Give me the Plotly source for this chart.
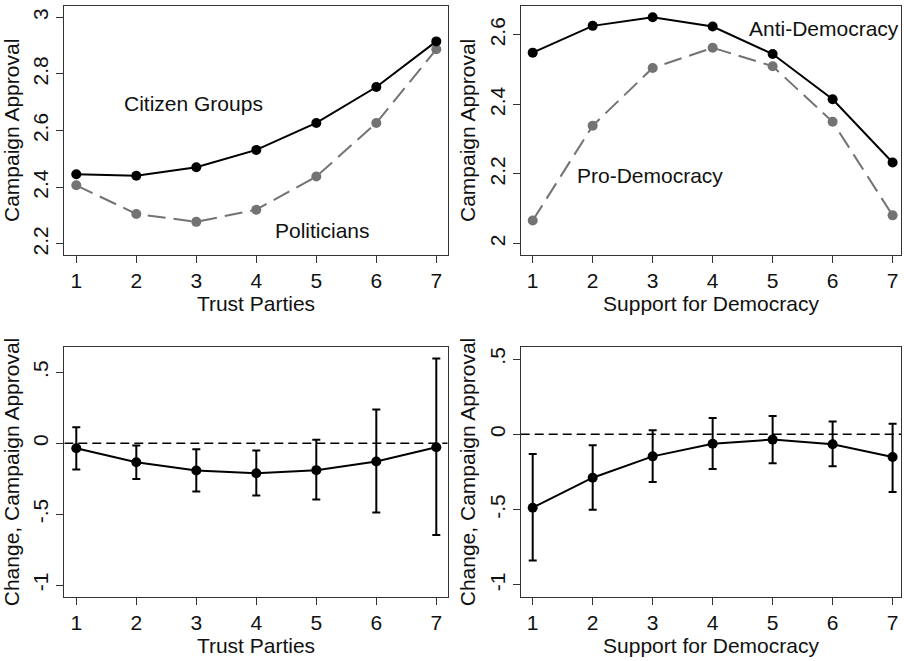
import plotly.graph_objects as go

x_vals = [1, 2, 3, 4, 5, 6, 7]

# Top-left: Trust Parties
trust_citizen = [2.446, 2.441, 2.471, 2.532, 2.627, 2.754, 2.915]
trust_politicians = [2.407, 2.306, 2.278, 2.321, 2.438, 2.627, 2.887]

# Top-right: Support for Democracy
dem_anti = [2.549, 2.626, 2.651, 2.624, 2.545, 2.415, 2.233]
dem_pro = [2.066, 2.339, 2.505, 2.563, 2.510, 2.350, 2.081]

# Bottom-left: change with CIs (Trust Parties)
trust_change = [-0.035, -0.134, -0.193, -0.212, -0.190, -0.129, -0.028]
trust_upper = [0.113, -0.016, -0.042, -0.052, 0.024, 0.237, 0.597]
trust_lower = [-0.186, -0.252, -0.341, -0.369, -0.397, -0.489, -0.647]

# Bottom-right: change with CIs (Support for Democracy)
dem_change = [-0.487, -0.288, -0.146, -0.062, -0.035, -0.066, -0.150]
dem_upper = [-0.131, -0.073, 0.027, 0.108, 0.122, 0.086, 0.071]
dem_lower = [-0.838, -0.500, -0.316, -0.230, -0.192, -0.212, -0.383]

top_left_ticks = [2.2, 2.4, 2.6, 2.8, 3.0]
top_left_ticktext = ["2.2", "2.4", "2.6", "2.8", "3"]
top_right_ticks = [2.0, 2.2, 2.4, 2.6]
top_right_ticktext = ["2", "2.2", "2.4", "2.6"]
bottom_ticks = [-1, -0.5, 0, 0.5]
bottom_ticktext = ["-1", "-.5", "0", ".5"]

BLACK = "#000000"
GRAY = "#737373"
FONT = "Liberation Sans, Arial, sans-serif"
FS = 21

fig = go.Figure()

def line_trace(y, color, dash, xa, ya):
    return go.Scatter(x=x_vals, y=y, mode="lines+markers",
                      line=dict(color=color, width=2, dash=dash),
                      marker=dict(color=color, size=10),
                      xaxis=xa, yaxis=ya, showlegend=False)

fig.add_trace(line_trace(trust_politicians, GRAY, "18px,8px", "x", "y"))
fig.add_trace(line_trace(trust_citizen, BLACK, "solid", "x", "y"))
fig.add_trace(line_trace(dem_pro, GRAY, "18px,8px", "x2", "y2"))
fig.add_trace(line_trace(dem_anti, BLACK, "solid", "x2", "y2"))

def ci_trace(y, up, lo, xa, ya):
    return go.Scatter(x=x_vals, y=y, mode="lines+markers",
                      line=dict(color=BLACK, width=2),
                      marker=dict(color=BLACK, size=10),
                      error_y=dict(type="data", symmetric=False,
                                   array=[u - v for u, v in zip(up, y)],
                                   arrayminus=[v - l for v, l in zip(y, lo)],
                                   color=BLACK, thickness=2, width=4),
                      xaxis=xa, yaxis=ya, showlegend=False)

# zero reference lines
fig.add_trace(go.Scatter(x=[0.8, 7.19], y=[0, 0], mode="lines",
                         line=dict(color=BLACK, width=1.5, dash="9px,5px"),
                         xaxis="x3", yaxis="y3", showlegend=False, hoverinfo="skip"))
fig.add_trace(go.Scatter(x=[0.8, 7.14], y=[0, 0], mode="lines",
                         line=dict(color=BLACK, width=1.5, dash="9px,5px"),
                         xaxis="x4", yaxis="y4", showlegend=False, hoverinfo="skip"))
fig.add_trace(ci_trace(trust_change, trust_upper, trust_lower, "x3", "y3"))
fig.add_trace(ci_trace(dem_change, dem_upper, dem_lower, "x4", "y4"))

W, H = 904, 661
def xd(a, b):
    return [a / W, b / W]
def yd(top, bot):
    return [1 - bot / H, 1 - top / H]

axis_common = dict(showgrid=False, zeroline=False, showline=True, mirror=True,
                   linecolor="#333333", linewidth=1.2, ticks="outside", ticklen=7,
                   tickwidth=1.2, tickcolor="#333333",
                   tickfont=dict(family=FONT, size=FS, color="#111111"))

def xaxis(domain, rng, anchor, title):
    d = dict(axis_common)
    d.update(domain=domain, range=rng, anchor=anchor, tickmode="array",
             tickvals=x_vals, ticktext=[str(v) for v in x_vals],
             title=dict(text=title, font=dict(family=FONT, size=FS, color="#111111"), standoff=5))
    return d

def yaxis(domain, rng, anchor, title, tv, tt):
    d = dict(axis_common)
    d.update(domain=domain, range=rng, anchor=anchor, tickmode="array",
             tickvals=tv, ticktext=tt, tickangle=-90,
             title=dict(text=title, font=dict(family=FONT, size=FS, color="#111111"), standoff=4))
    return d

ann_font = dict(family=FONT, size=FS, color="#111111")

fig.update_layout(
    width=W, height=H,
    margin=dict(l=0, r=0, t=0, b=0),
    paper_bgcolor="white", plot_bgcolor="white",
    font=dict(family=FONT, size=FS, color="#111111"),
    xaxis=xaxis(xd(64.3, 447.7), [0.8, 7.19], "y", "Trust Parties"),
    yaxis=yaxis(yd(5.7, 255), [2.161, 3.041], "x", "Campaign Approval",
                top_left_ticks, top_left_ticktext),
    xaxis2=xaxis(xd(521, 901), [0.805, 7.14], "y2", "Support for Democracy"),
    yaxis2=yaxis(yd(5.7, 255), [1.967, 2.684], "x2", "Campaign Approval",
                 top_right_ticks, top_right_ticktext),
    xaxis3=xaxis(xd(64.3, 447.7), [0.8, 7.19], "y3", "Trust Parties"),
    yaxis3=yaxis(yd(347.3, 596.7), [-1.082, 0.676], "x3", "Change, Campaign Approval",
                 bottom_ticks, bottom_ticktext),
    xaxis4=xaxis(xd(521, 901), [0.805, 7.14], "y4", "Support for Democracy"),
    yaxis4=yaxis(yd(347.3, 596.7), [-1.078, 0.578], "x4", "Change, Campaign Approval",
                 bottom_ticks, bottom_ticktext),
    annotations=[
        dict(text="Citizen Groups", x=2.95, y=2.697, xref="x", yref="y", showarrow=False, font=ann_font),
        dict(text="Politicians", x=5.10, y=2.249, xref="x", yref="y", showarrow=False, font=ann_font),
        dict(text="Anti-Democracy", x=5.86, y=2.619, xref="x2", yref="y2", showarrow=False, font=ann_font),
        dict(text="Pro-Democracy", x=2.96, y=2.197, xref="x2", yref="y2", showarrow=False, font=ann_font),
    ],
)

fig.write_html("out.html", config={"displayModeBar": False},
               post_script="document.body.style.margin='0px';document.body.style.overflow='hidden';")
